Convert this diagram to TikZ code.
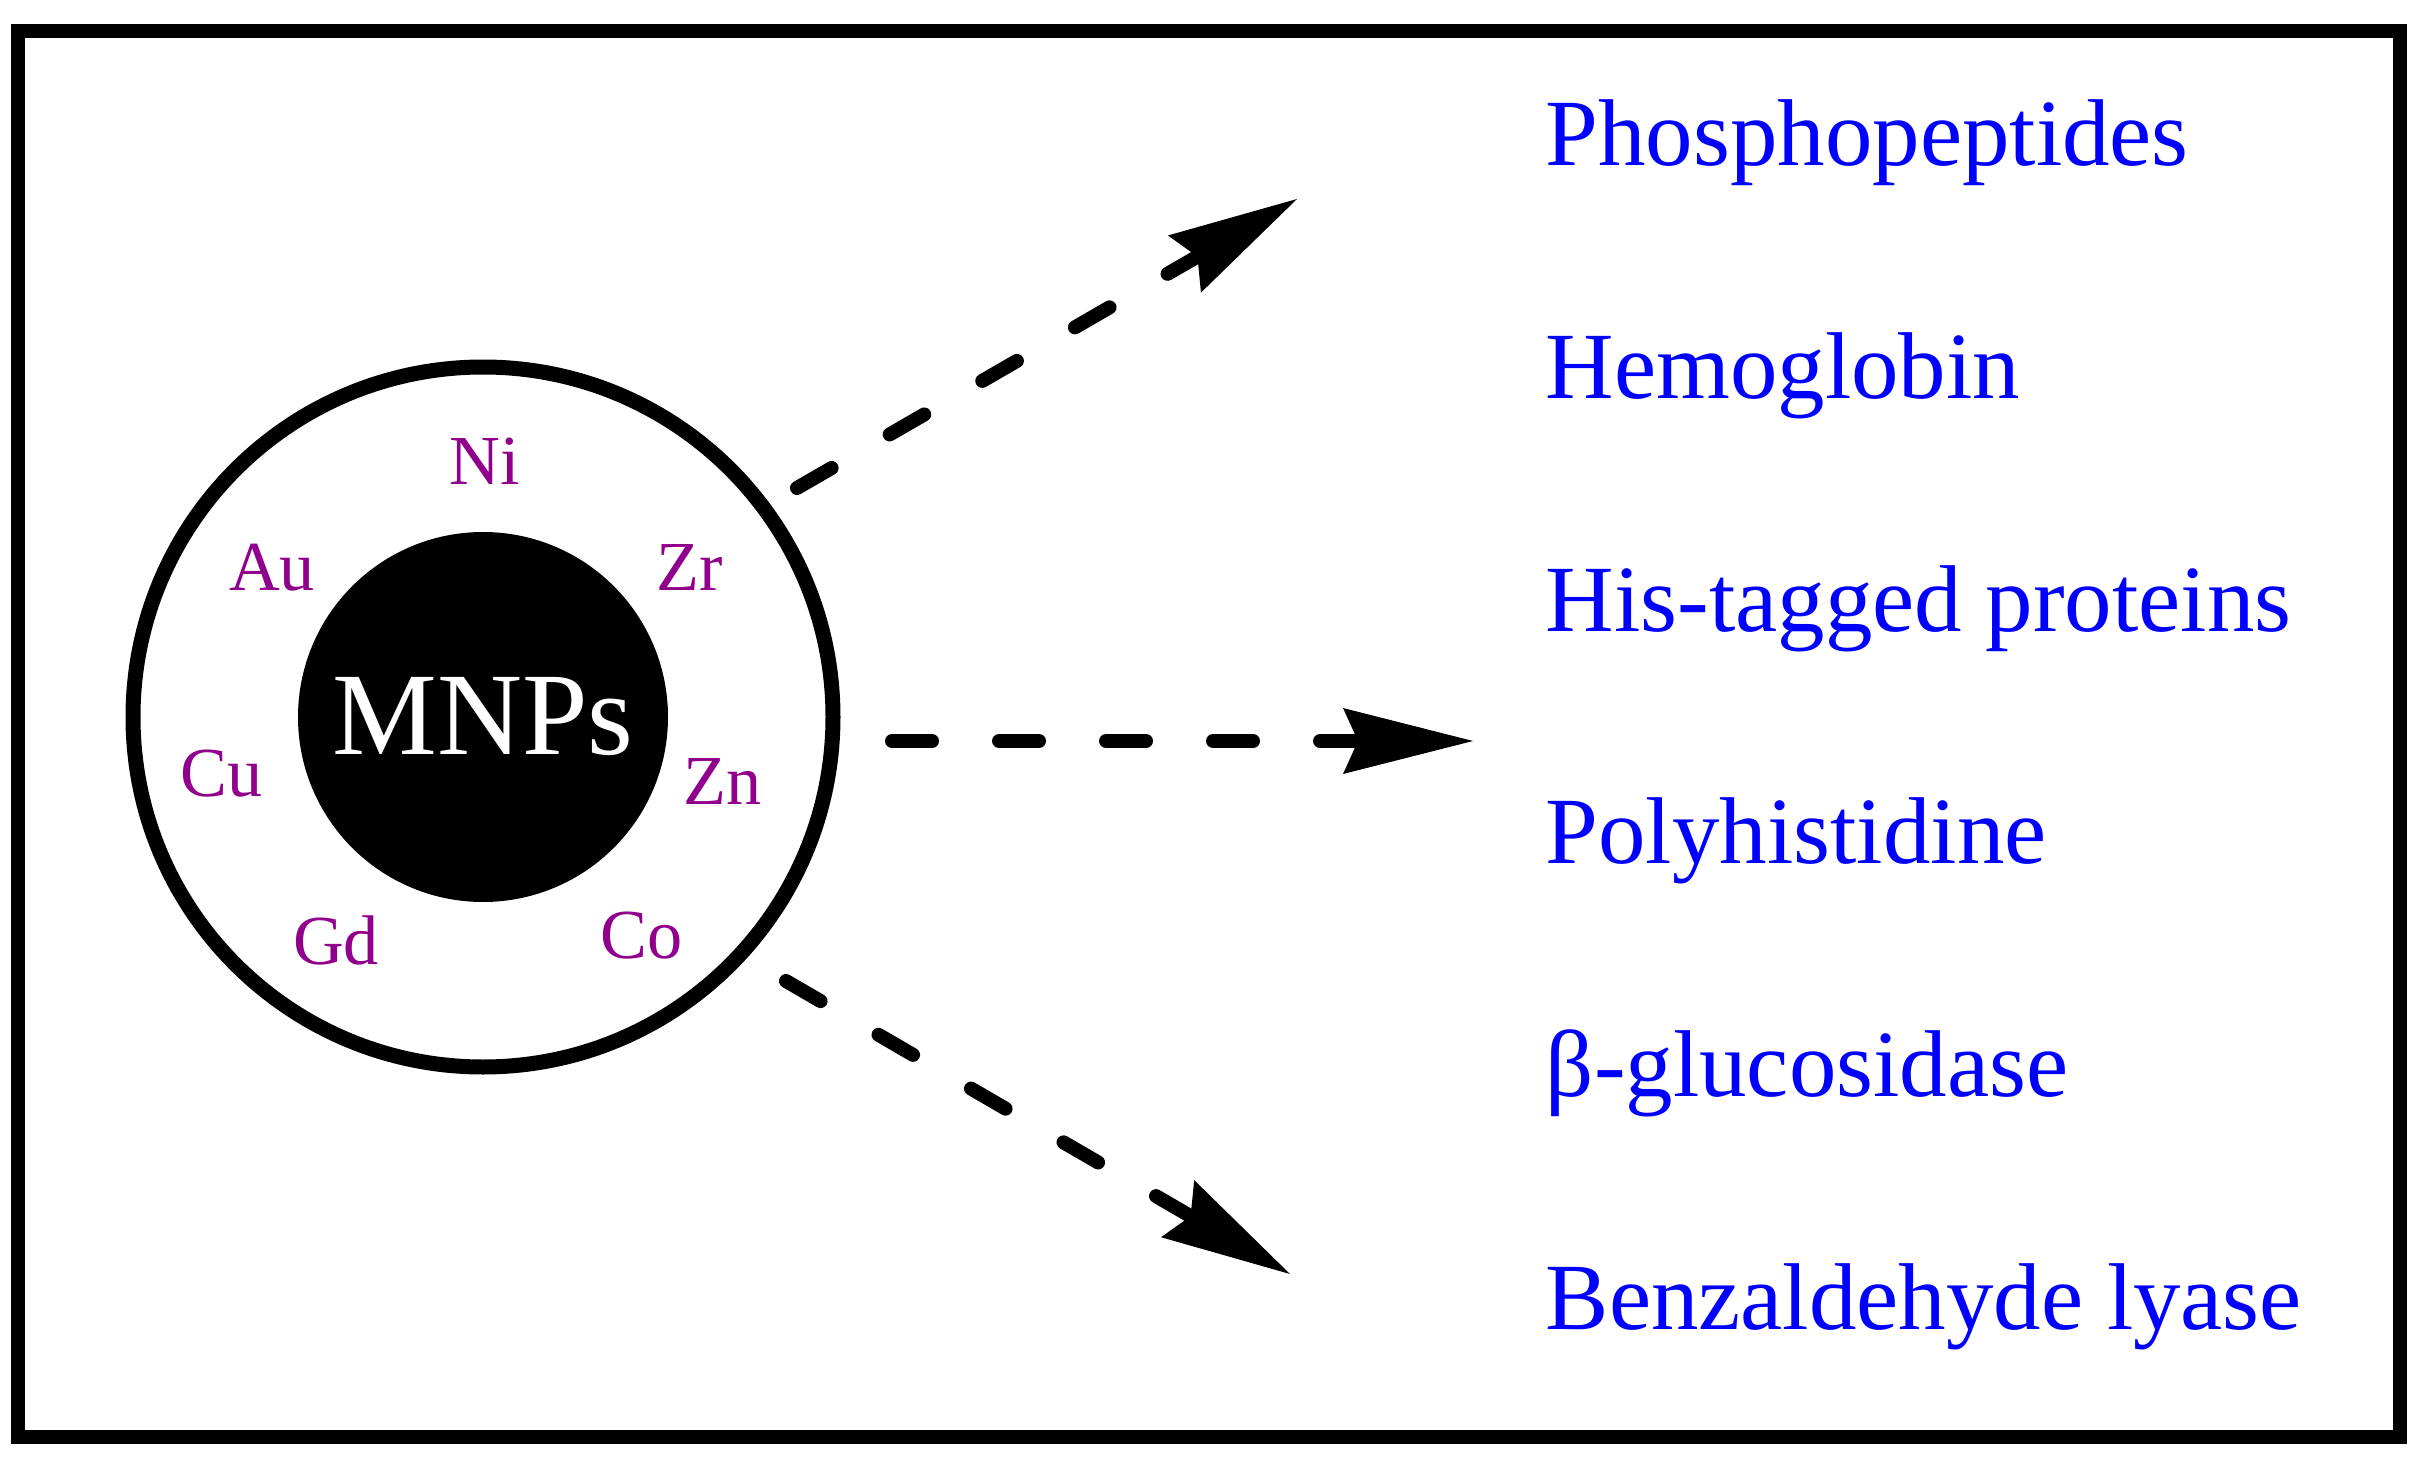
\documentclass[tikz,border=0pt]{standalone}
\usepackage{fontspec}
\setmainfont{Liberation Serif}
\usetikzlibrary{arrows.meta,positioning}
\definecolor{metalpurple}{RGB}{145,0,140}
\definecolor{protblue}{RGB}{0,0,255}

\begin{document}
\begin{tikzpicture}[x=0.1mm, y=-0.1mm,
    metal/.style={text=metalpurple, font=\fontsize{20}{24}\selectfont, inner sep=0, anchor=base},
    prot/.style={text=protblue, font=\fontsize{27}{32}\selectfont, inner sep=0},
    flow/.style={line width=1.4mm, line cap=round, dash pattern=on 4mm off 6.7mm,
      -{Stealth[length=13mm, width=6.6mm, inset=1.5mm, line width=0pt]}}]
    \useasboundingbox (0,0) rectangle (2428,1474);
    \draw[line width=1.4mm] (18,31) rectangle (2400,1437);

    % particle
    \node(ring) [circle, draw, line width=1.5mm, minimum size=70mm, inner sep=0] at (483,717) {};
    \node(core) [circle, fill=black, text=white, minimum size=37mm, inner sep=0,
      font=\fontsize{33.5}{40}\selectfont] at (483,717) {MNPs};

    \node(ni) [metal] at (485,484) {Ni};
    \node(au) [metal] at (272,590) {Au};
    \node(zr) [metal] at (690,590) {Zr};
    \node(cu) [metal] at (222,796) {Cu};
    \node(zn) [metal] at (723,804) {Zn};
    \node(gd) [metal] at (336,964) {Gd};
    \node(co) [metal] at (642,958) {Co};

    % targets
    \node(phos) [prot, anchor=base west] at (1545,166) {Phosphopeptides};
    \node(hemo) [prot, below=23.26mm of phos.base west, anchor=base west] {Hemoglobin};
    \node(his) [prot, below=23.26mm of hemo.base west, anchor=base west] {His-tagged proteins};
    \node(poly) [prot, below=23.26mm of his.base west, anchor=base west] {Polyhistidine};
    \node(gluc) [prot, below=23.26mm of poly.base west, anchor=base west] {β-glucosidase};
    \node(lyase) [prot, below=23.26mm of gluc.base west, anchor=base west] {Benzaldehyde lyase};

    % arrows
    \coordinate(s1) at (797,488);
    \coordinate(t1) at (1297,199);
    \coordinate(s2) at (892,741);
    \coordinate(t2) at (1473,741);
    \coordinate(s3) at (786,981);
    \coordinate(t3) at (1290,1274);
    \draw[flow] (s1) -- (t1);
    \draw[flow] (s2) -- (t2);
    \draw[flow] (s3) -- (t3);
\end{tikzpicture}
\end{document}
